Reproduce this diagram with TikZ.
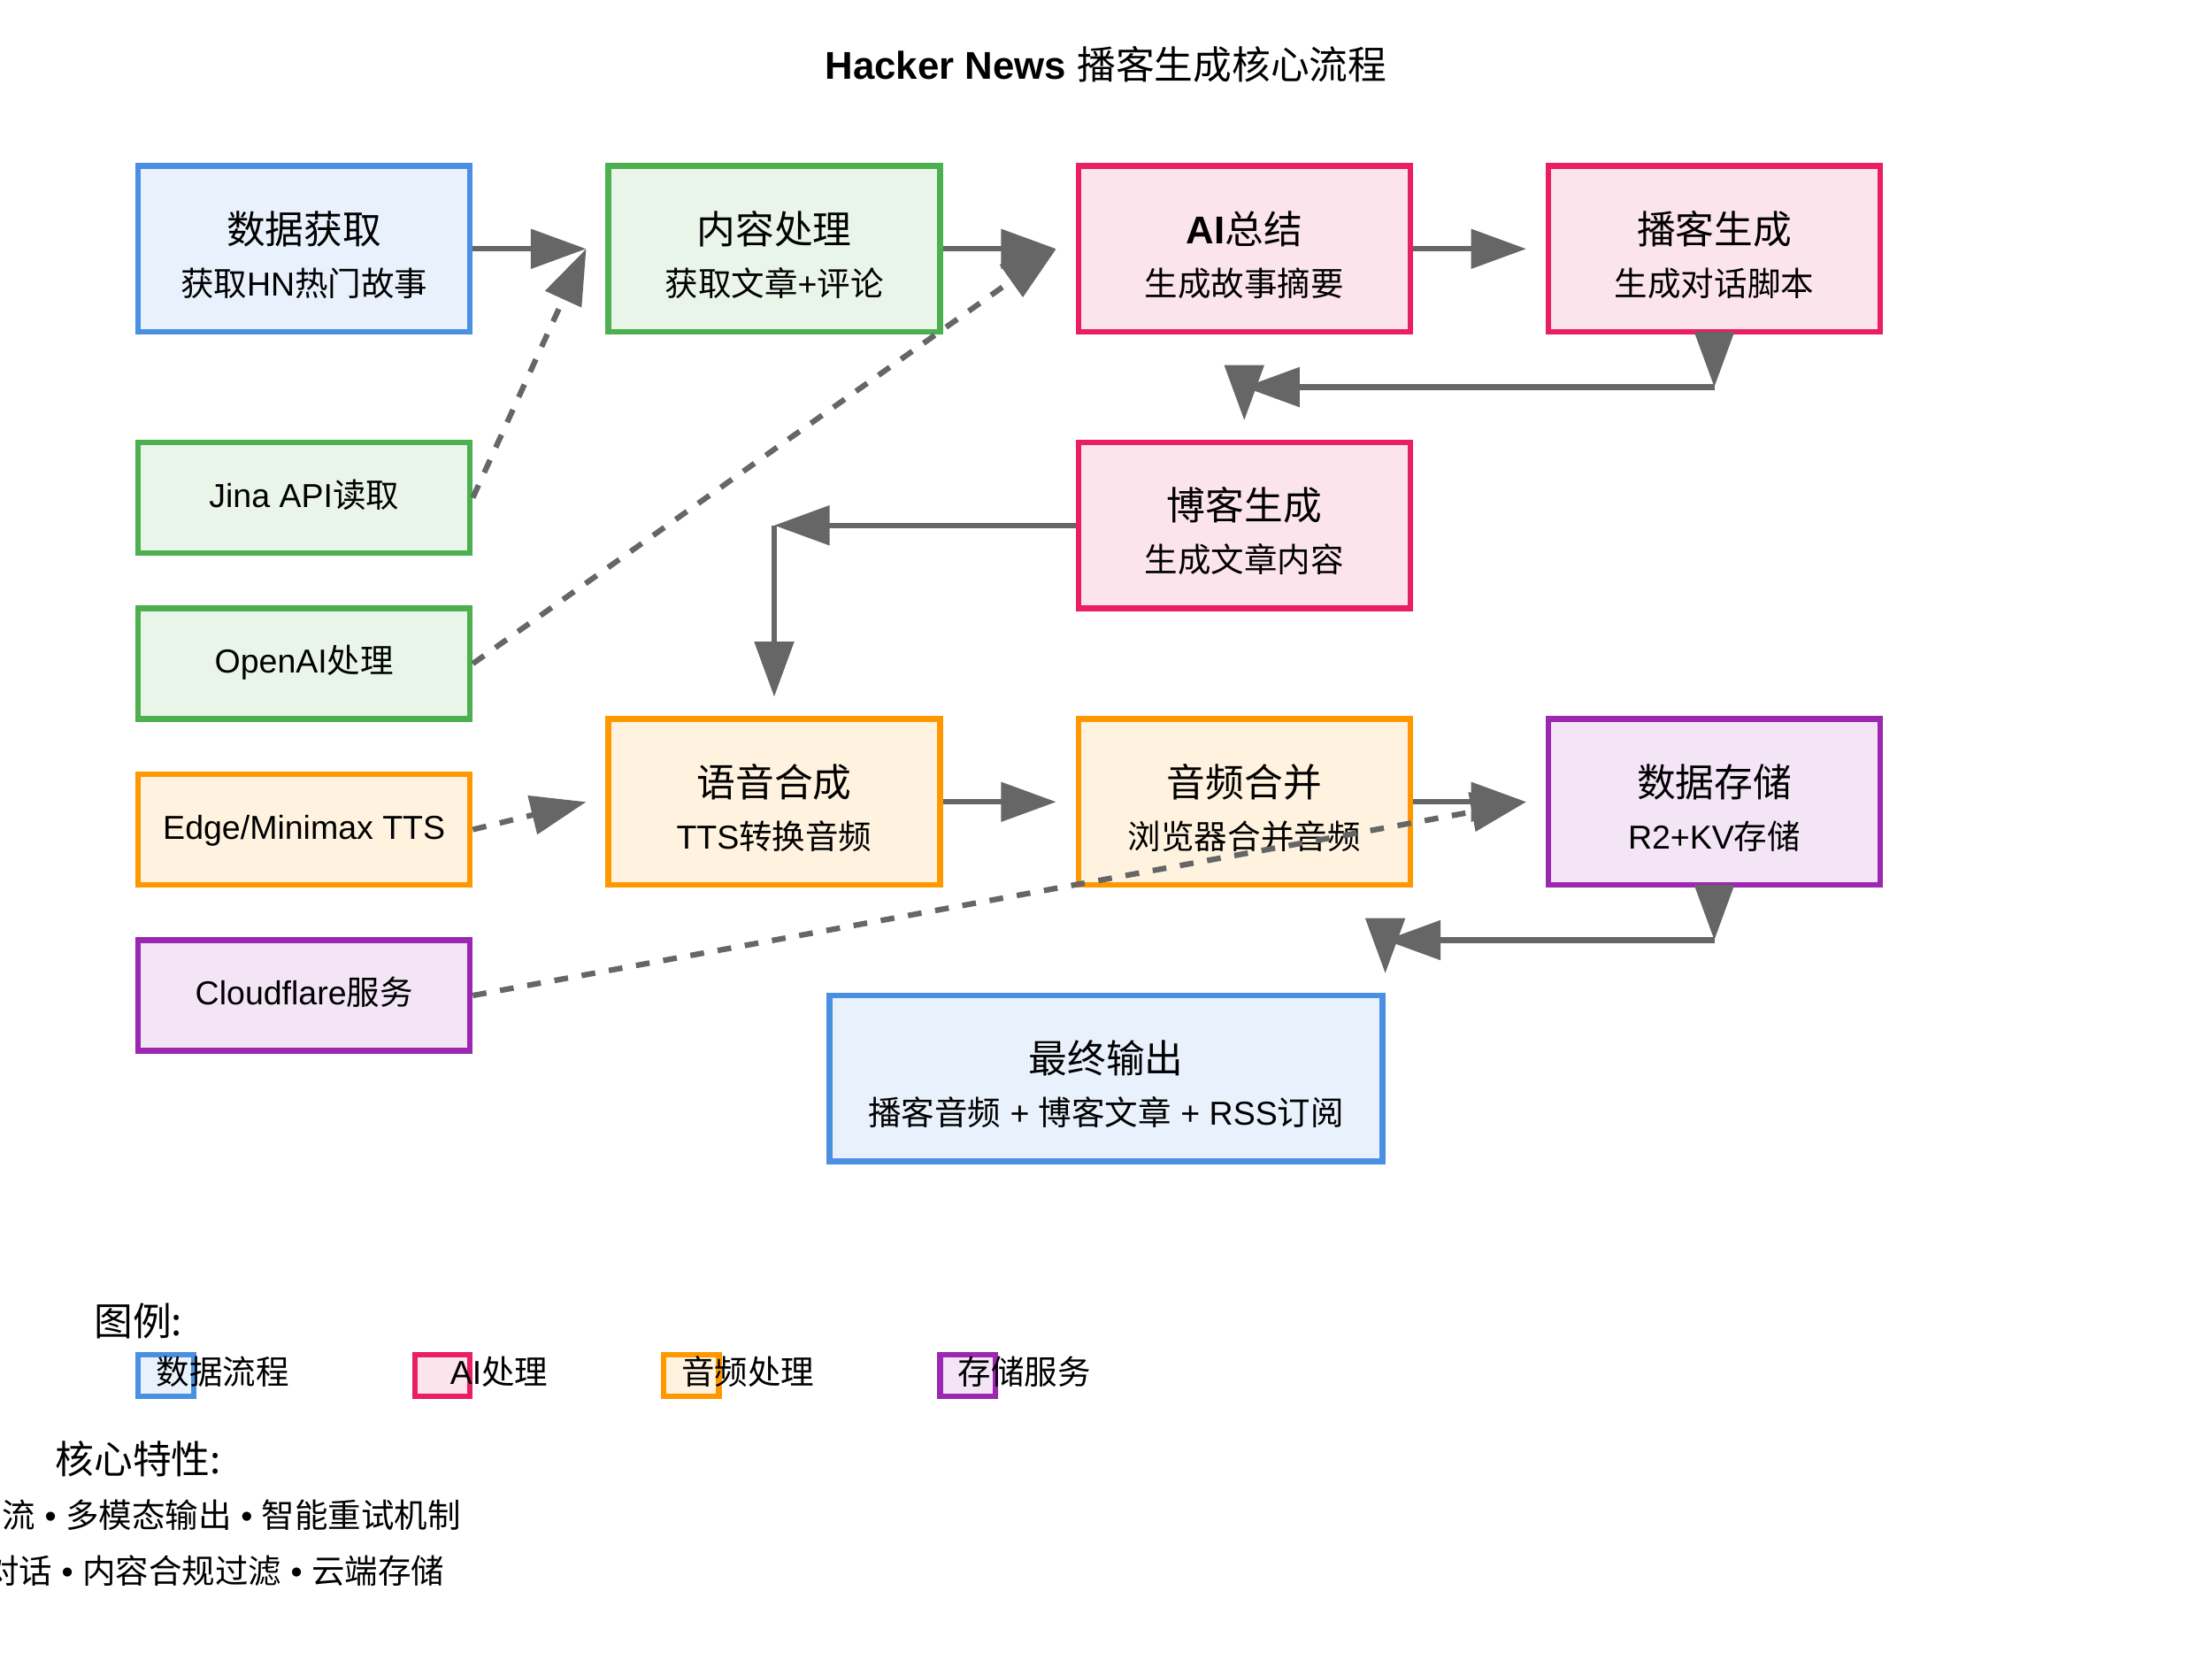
\documentclass[tikz,border=0pt]{standalone}
\usepackage{fontspec}
\setmainfont{Liberation Sans}
\newfontfamily\cjk{Noto Sans CJK SC}
\usetikzlibrary{arrows.meta,calc}

\definecolor{cblue}{HTML}{4A90E2}
\definecolor{cgreen}{HTML}{4CAF50}
\definecolor{cpink}{HTML}{E91E63}
\definecolor{corange}{HTML}{FF9800}
\definecolor{cpurple}{HTML}{9C27B0}
\definecolor{cgray}{HTML}{666666}

\newcommand\zh[1]{{\cjk #1}}

\begin{document}
\begin{tikzpicture}[x=0.25mm, y=-0.25mm,
    stage/.style={draw=#1, fill=#1!12, line width=0.5mm,
      minimum width=30mm, minimum height=15mm, inner sep=0pt},
    tool/.style={stage=#1, minimum height=10mm},
    ttl/.style={font=\fontsize{9.96}{12}\selectfont, anchor=base, inner sep=0pt},
    sub/.style={font=\fontsize{8.54}{10}\selectfont, anchor=base, inner sep=0pt},
    flow/.style={draw=cgray, line width=0.5mm,
      -{Triangle[length=5mm, width=3.5mm]}},
    link/.style={flow, dash pattern=on 1.25mm off 1.25mm}]

    \useasboundingbox (0,0) rectangle (800,600);

    % Title
    \node[ttl] (title) at (400,28.6) {\textbf{Hacker News} \zh{播客生成核心流程}};

    % Main stages
    \foreach \nm/\px/\py/\col/\head/\note in {
        fetch/50/60/cblue/{\zh{数据获取}}/{\zh{获取}HN\zh{热门故事}},
        content/220/60/cgreen/{\zh{内容处理}}/{\zh{获取文章}+\zh{评论}},
        summary/390/60/cpink/{\textbf{AI}\zh{总结}}/{\zh{生成故事摘要}},
        podcast/560/60/cpink/{\zh{播客生成}}/{\zh{生成对话脚本}},
        blog/390/160/cpink/{\zh{博客生成}}/{\zh{生成文章内容}},
        synth/220/260/corange/{\zh{语音合成}}/{TTS\zh{转换音频}},
        merge/390/260/corange/{\zh{音频合并}}/{\zh{浏览器合并音频}},
        store/560/260/cpurple/{\zh{数据存储}}/{R2+KV\zh{存储}}} {
      \node[stage=\col] (\nm) at (\px+60,\py+30) {};
      \node[ttl] (\nm-t) at (\px+60,\py+28) {\head};
      \node[sub] (\nm-s) at (\px+60,\py+47) {\note};
    }

    % Final output
    \node[stage=cblue, minimum width=50mm] (final) at (400,390) {};
    \node[ttl] (final-t) at (400,388) {\zh{最终输出}};
    \node[sub] (final-s) at (400,407) {\zh{播客音频} + \zh{博客文章} + RSS\zh{订阅}};

    % Services
    \foreach \nm/\py/\col/\head in {
        jina/160/cgreen/{Jina API\zh{读取}},
        openai/220/cgreen/{OpenAI\zh{处理}},
        edge/280/corange/{Edge/Minimax TTS},
        cloud/340/cpurple/{Cloudflare\zh{服务}}} {
      \node[tool=\col] (\nm) at (110,\py+20) {};
      \node[sub] (\nm-t) at (110,\py+23.5) {\head};
    }

    % Arrow targets
    \coordinate (content-in) at ($(content.west)+(-7,0)$);
    \coordinate (summary-in) at ($(summary.west)+(-7,0)$);
    \coordinate (podcast-in) at ($(podcast.west)+(-7,0)$);
    \coordinate (synth-in) at ($(synth.west)+(-7,0)$);
    \coordinate (merge-in) at ($(merge.west)+(-7,0)$);
    \coordinate (store-in) at ($(store.west)+(-7,0)$);

    % Main flow
    \draw[flow] (fetch.east) -- (content-in);
    \draw[flow] (content.east) -- (summary-in);
    \draw[flow] (summary.east) -- (podcast-in);
    \draw[flow] (synth.east) -- (merge-in);
    \draw[flow] (merge.east) -- (store-in);

    % Podcast -> blog
    \coordinate (podcast-turn) at ($(podcast.south)+(0,19)$);
    \coordinate (blog-turn) at (blog.north |- podcast-turn);
    \coordinate (blog-in) at ($(blog.north)+(0,-7)$);
    \draw[flow] (podcast.south) -- (podcast-turn);
    \draw[flow] (podcast-turn) -- (blog-turn);
    \draw[flow] (blog-turn) -- (blog-in);

    % Blog -> speech
    \coordinate (synth-turn) at (synth.north |- blog.west);
    \coordinate (synth-top) at ($(synth.north)+(0,-7)$);
    \draw[flow] (blog.west) -- (synth-turn);
    \draw[flow] (synth-turn) -- (synth-top);

    % Storage -> output
    \coordinate (store-turn) at ($(store.south)+(0,19)$);
    \coordinate (final-turn) at (final.north east |- store-turn);
    \coordinate (final-in) at ($(final-turn)+(0,12)$);
    \draw[flow] (store.south) -- (store-turn);
    \draw[flow] (store-turn) -- (final-turn);
    \draw[flow] (final-turn) -- (final-in);

    % Service links
    \draw[link] (jina.east) -- (content-in);
    \draw[link] (openai.east) -- (summary-in);
    \draw[link] (edge.east) -- (synth-in);
    \draw[link] (cloud.east) -- (store-in);

    % Legend
    \node[ttl] (legend) at (50,483) {\zh{图例:}};
    \foreach \nm/\px/\col/\head in {
        lg-data/50/cblue/{\zh{数据流程}},
        lg-ai/150/cpink/{AI\zh{处理}},
        lg-audio/240/corange/{\zh{音频处理}},
        lg-store/340/cpurple/{\zh{存储服务}}} {
      \node[stage=\col, minimum width=5mm, minimum height=3.75mm] (\nm) at (\px+10,497.5) {};
      \node[sub] (\nm-t) at (\px+30.5,500.5) {\head};
    }

    % Features
    \node[ttl] (features) at (50,533) {\zh{核心特性:}};
    \node[sub, anchor=base east] (feat-1) at (167,552.5) {\zh{流} • \zh{多模态输出} • \zh{智能重试机制}};
    \node[sub, anchor=base east] (feat-2) at (161,572.5) {\zh{对话} • \zh{内容合规过滤} • \zh{云端存储}};
\end{tikzpicture}
\end{document}
